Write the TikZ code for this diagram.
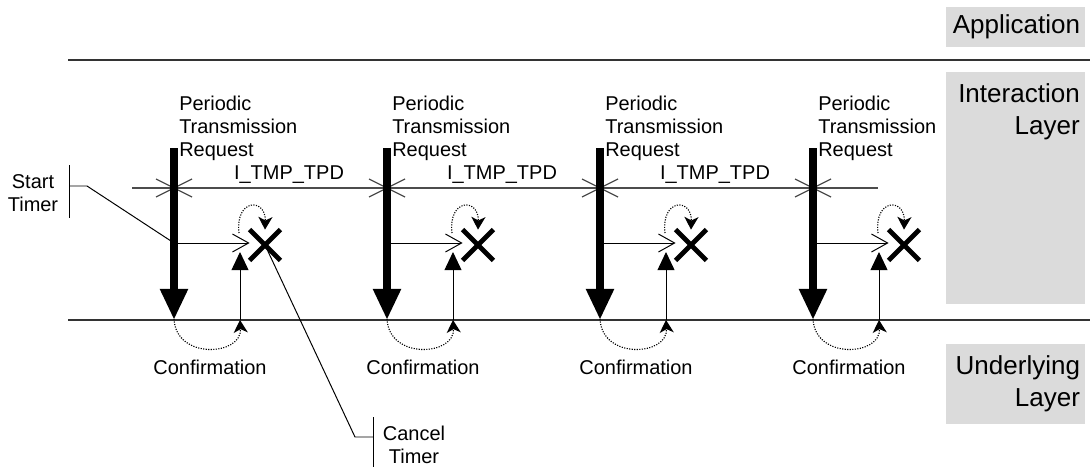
\documentclass[tikz,border=0pt]{standalone}
\usepackage{fontspec}
\setmainfont{Liberation Sans}
\usetikzlibrary{arrows.meta,positioning,shapes.misc,calc}

\begin{document}
\begin{tikzpicture}[
  x=0.025cm, y=-0.025cm,
  every node/.style = {font=\fontsize{14.2}{16.4}\selectfont, inner sep=0pt},
  layerbox/.style   = {rectangle, fill=black!14, text width=3.225cm, align=right,
                       inner xsep=0.125cm, inner ysep=0pt,
                       font=\fontsize{18.5}{22.8}\selectfont},
  layertxt/.style   = {align=right, font=\fontsize{18.5}{22.8}\selectfont},
  layerline/.style  = {line width=1.1pt, black!80},
  timer/.style      = {line width=0.9pt, black!70},
  fine/.style       = {line width=0.7pt},
  bigarr/.style     = {line width=5.9pt,
                       -{Triangle[length=21.5pt,width=20.5pt,line width=0pt]}},
  openarr/.style    = {fine, -{Straight Barb[length=11.5pt,width=12.8pt]}},
  uparr/.style      = {fine, -{Triangle[length=12.8pt,width=12pt]}},
  dotarr/.style     = {line width=0.8pt, dash pattern=on 0.8pt off 1pt,
                       -{Stealth[length=9pt,width=10pt,inset=2.5pt]}},
  cancelx/.style    = {cross out, draw, line width=3.4pt,
                       minimum width=0.65cm, minimum height=0.65cm},
]
\useasboundingbox (0,0) rectangle (1090,467);

% ── Layer names ──────────────────────────────────────────────
\node[layerbox, minimum height=1cm]   (app)   at (1015.5,27)  {Application};
\node[layerbox, minimum height=5.8cm] (ilbox) at (1015.5,188) {};
\node[layertxt, anchor=north east]    (il)    at (1080,83)    {Interaction\\Layer};
\node[layerbox, minimum height=2cm]   (ul)    at (1015.5,384) {Underlying\\Layer};

% ── Layer boundaries ─────────────────────────────────────────
\coordinate (upL) at (68,60);  \coordinate (upR) at (1090,60);
\coordinate (loL) at (68,320); \coordinate (loR) at (1090,320);
\draw[layerline] (upL) -- (upR);
\draw[layerline] (loL) -- (loR);

% ── Timer period line ────────────────────────────────────────
\coordinate (tmL) at (132,188); \coordinate (tmR) at (878,188);
\draw[timer] (tmL) -- (tmR);
\foreach \x [count=\i] in {174,387,600}
  \node (tpd\i) at ({\x+115},175) {I\_TMP\_TPD};

% ── One column per periodic request ──────────────────────────
\foreach \x [count=\i] in {174,387,600,813} {
  \coordinate (top\i) at (\x,148);
  \coordinate (tip\i) at (\x,319);
  \coordinate (go\i)  at (\x,243);
  \coordinate (cb\i)  at ({\x+66},320);
  \coordinate (ce\i)  at ({\x+66},252);
  \coordinate (lp\i)  at ({\x+65},233);
  \draw[timer] ({\x-18},179) -- ({\x+18},197);
  \draw[timer] ({\x-18},197) -- ({\x+18},179);
  \node[cancelx] (cx\i) at ({\x+91},245) {};
  \draw[openarr] (go\i) -- (go\i -| cx\i.west);
  \draw[bigarr] (top\i) -- (tip\i);
  \draw[uparr] (cb\i) -- (ce\i);
  \draw[dotarr] (lp\i) .. controls ({\x+61},198) and ({\x+92},198) .. (cx\i.north);
  \draw[dotarr] (tip\i) .. controls ({\x+2},360) and ({\x+68},356) .. (cb\i);
  \node[anchor=north west, align=left] (req\i) at ({\x+5},96)
    {Periodic\\Transmission\\Request};
  \node (conf\i) at ({\x+36},367) {Confirmation};
}

% ── Timer annotations ────────────────────────────────────────
\node[align=center] (st) at (33,193) {Start\\Timer};
\coordinate (stA) at (69,165); \coordinate (stB) at (69,218);
\coordinate (stC) at (69,186); \coordinate (stD) at (87,186);
\draw[fine] (stA) -- (stB);
\draw[fine] (stC) -- (stD) -- (go1);

\node[align=center] (ct) at (414,445) {Cancel\\Timer};
\coordinate (ctA) at (373,417); \coordinate (ctB) at (373,467);
\coordinate (ctC) at (373,437); \coordinate (ctD) at (355,437);
\draw[fine] (ctA) -- (ctB);
\draw[fine, shorten >=4pt] (ctC) -- (ctD) -- (cx1.center);

\end{tikzpicture}
\end{document}
